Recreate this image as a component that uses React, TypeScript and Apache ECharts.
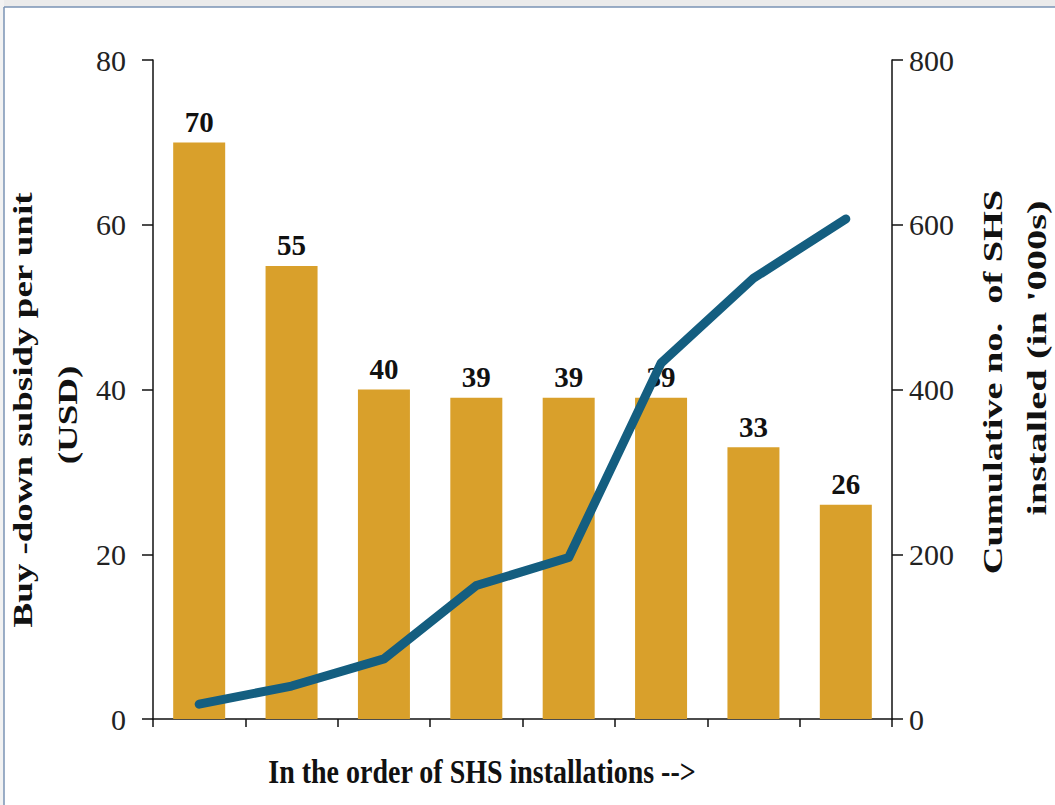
import React, { useEffect, useRef } from "react";
import * as echarts from "echarts";

const categories = ["1", "2", "3", "4", "5", "6", "7", "8"];
const subsidyUSD = [70, 55, 40, 39, 39, 39, 33, 26];
const subsidyLabels = ["70", "55", "40", "39", "39", "39", "33", "26"];
const cumulativeSHS = [18, 40, 73, 162, 196, 432, 535, 607];
const leftTicks = [0, 20, 40, 60, 80];
const rightTicks = [0, 200, 400, 600, 800];

const SERIF = "Liberation Serif";

export default function App() {
  const ref = useRef<HTMLDivElement>(null);
  useEffect(() => {
    if (!ref.current) return;
    const chart = echarts.init(ref.current, null, { renderer: "svg" });
    chart.setOption({
      animation: false,
      backgroundColor: "#ffffff",
      grid: { left: 153, right: 163, top: 60, bottom: 86, containLabel: false },
      xAxis: {
        type: "category",
        data: categories,
        axisLine: { show: true, lineStyle: { color: "#111", width: 1.5 } },
        axisTick: { show: true, alignWithLabel: false, length: 8, lineStyle: { color: "#111", width: 1.5 } },
        axisLabel: { show: false },
      },
      yAxis: [
        {
          type: "value",
          min: leftTicks[0],
          max: leftTicks[leftTicks.length - 1],
          interval: 20,
          position: "left",
          splitLine: { show: false },
          axisLine: { show: true, lineStyle: { color: "#111", width: 1.5 } },
          axisTick: { show: true, length: 11, lineStyle: { color: "#111", width: 1.5 } },
          axisLabel: { margin: 27, fontFamily: SERIF, fontSize: 30, color: "#222" },
        },
        {
          type: "value",
          min: rightTicks[0],
          max: rightTicks[rightTicks.length - 1],
          interval: 200,
          position: "right",
          splitLine: { show: false },
          axisLine: { show: true, lineStyle: { color: "#111", width: 1.5 } },
          axisTick: { show: true, length: 11, lineStyle: { color: "#111", width: 1.5 } },
          axisLabel: { margin: 17, fontFamily: SERIF, fontSize: 30, color: "#222" },
        },
      ],
      series: [
        {
          type: "bar",
          yAxisIndex: 0,
          data: subsidyUSD,
          barWidth: 52,
          itemStyle: { color: "#D9A02B" },
          label: {
            show: true,
            position: "top",
            distance: 6,
            formatter: (p: any) => subsidyLabels[p.dataIndex],
            fontFamily: SERIF,
            fontWeight: "bold",
            fontSize: 29,
            color: "#111",
          },
        },
        {
          type: "line",
          yAxisIndex: 1,
          data: cumulativeSHS,
          symbol: "none",
          smooth: false,
          lineStyle: { color: "#145E80", width: 9, cap: "round", join: "round" },
        },
      ],
      graphic: [
        { type: "rect", shape: { x: 0, y: 0, width: 1055, height: 7 }, style: { fill: "#ebebeb" }, silent: true },
        { type: "rect", shape: { x: 0, y: 0, width: 4, height: 805 }, style: { fill: "#f2f2f2" }, silent: true },
        { type: "line", shape: { x1: 4, y1: 7, x2: 1055, y2: 7 }, style: { stroke: "#7a93b5", lineWidth: 1.5 }, silent: true },
        { type: "line", shape: { x1: 4, y1: 7, x2: 4, y2: 805 }, style: { stroke: "#7a93b5", lineWidth: 1.5 }, silent: true },
        {
          type: "text", x: 23, y: 410, rotation: Math.PI / 2, scaleX: 1.37,
          style: { text: "Buy -down subsidy per unit", font: `bold 27px ${SERIF}`, fill: "#111", textAlign: "center", textVerticalAlign: "middle" },
        },
        {
          type: "text", x: 68, y: 415, rotation: Math.PI / 2, scaleX: 1.37,
          style: { text: "(USD)", font: `bold 27px ${SERIF}`, fill: "#111", textAlign: "center", textVerticalAlign: "middle" },
        },
        {
          type: "text", x: 993, y: 382, rotation: Math.PI / 2, scaleX: 1.42,
          style: { text: "Cumulative no.  of SHS", font: `bold 27px ${SERIF}`, fill: "#111", textAlign: "center", textVerticalAlign: "middle" },
        },
        {
          type: "text", x: 1037, y: 358, rotation: Math.PI / 2, scaleX: 1.5,
          style: { text: "installed (in '000s)", font: `bold 27px ${SERIF}`, fill: "#111", textAlign: "center", textVerticalAlign: "middle" },
        },
        {
          type: "text", x: 482, y: 772, scaleY: 1.2,
          style: { text: "In the order of SHS installations -->", font: `bold 28px ${SERIF}`, fill: "#111", textAlign: "center", textVerticalAlign: "middle" },
        },
      ],
    });
    return () => chart.dispose();
  }, []);
  return <div ref={ref} style={{ position: "fixed", left: 0, top: 0, width: 1055, height: 805 }} />;
}
